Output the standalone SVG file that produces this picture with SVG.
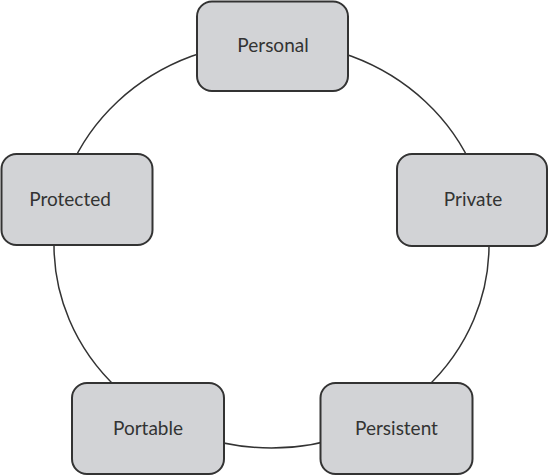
<svg xmlns="http://www.w3.org/2000/svg" width="550" height="476" viewBox="0 0 550 476">
<style>
.box{fill:#d2d3d6;stroke:#333;stroke-width:2}
.lbl{font-family:Lato,"Open Sans","Liberation Sans",sans-serif;font-size:19px;fill:#333;text-anchor:middle}
.conn{fill:none;stroke:#333;stroke-width:1.5}
</style>
<rect width="550" height="476" fill="#fff"/>
<g id="connectors">
<ellipse class="conn" cx="271.5" cy="245" rx="217.5" ry="203"/>
</g>
<g id="personal">
<rect class="box" x="197" y="1.5" width="151" height="89.5" rx="15"/>
<text class="lbl" x="273" y="52">Personal</text>
</g>
<g id="protected">
<rect class="box" x="1.5" y="154" width="151" height="91" rx="15"/>
<text class="lbl" x="70" y="206">Protected</text>
</g>
<g id="private">
<rect class="box" x="397" y="154" width="150" height="92" rx="15"/>
<text class="lbl" x="473" y="206">Private</text>
</g>
<g id="portable">
<rect class="box" x="72" y="383" width="152" height="91" rx="15"/>
<text class="lbl" x="148" y="435">Portable</text>
</g>
<g id="persistent">
<rect class="box" x="320.5" y="383" width="152" height="91" rx="15"/>
<text class="lbl" x="396.5" y="435">Persistent</text>
</g>
</svg>
